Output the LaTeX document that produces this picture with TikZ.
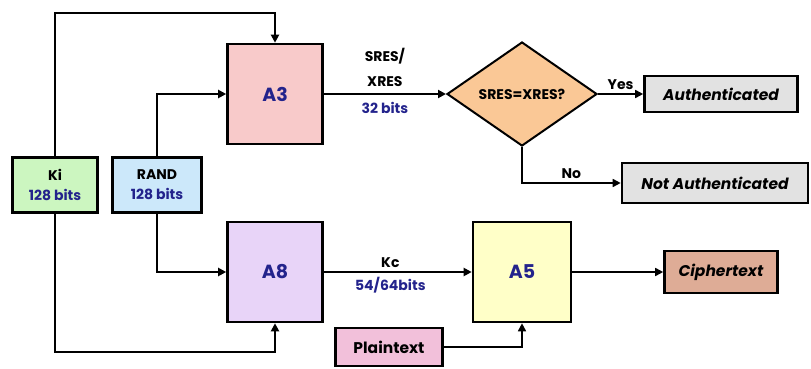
\documentclass[tikz,border=0pt]{standalone}
\usepackage{fontspec}
\setmainfont{Poppins}
\usetikzlibrary{arrows.meta,positioning,shapes.geometric}
\definecolor{nv}{RGB}{35,35,140}
\definecolor{pk}{RGB}{248,202,202}
\definecolor{lv}{RGB}{232,212,248}
\definecolor{ly}{RGB}{255,255,200}
\definecolor{kg}{RGB}{204,246,192}
\definecolor{rb}{RGB}{204,232,250}
\definecolor{og}{RGB}{250,200,150}
\definecolor{gy}{RGB}{226,226,226}
\definecolor{bn}{RGB}{222,172,150}
\definecolor{pl}{RGB}{242,192,218}
\newcommand{\NV}[1]{\textcolor{nv}{#1}}

\begin{document}
\begin{tikzpicture}[x=1pt,y=-1pt,
  algo/.style={draw,line width=2.6pt,minimum width=95pt,minimum height=100pt,font=\fontsize{19}{21}\selectfont\bfseries,text=nv},
  keybox/.style={draw,line width=2.6pt,minimum height=55pt,align=center,font=\fontsize{14}{20}\selectfont\bfseries},
  outbox/.style={draw,line width=2.6pt,font=\fontsize{15.5}{17}\selectfont\bfseries\itshape},
  bus/.style={line width=2.8pt,-{Triangle[length=8pt,width=8pt]}},
  wire/.style={line width=1.6pt,-{Triangle[length=8pt,width=8pt]}},
  tag/.style={font=\fontsize{14}{16}\selectfont\bfseries}]
  \useasboundingbox (0,0) rectangle (811,369);

  % inputs
  \node[keybox,fill=kg,minimum width=85pt] (ki) at (55,185) {Ki\\\NV{128 bits}};
  \node[keybox,fill=rb,minimum width=89pt] (rand) at (157,185) {RAND\\\NV{128 bits}};

  % algorithms
  \node[algo,fill=pk] (a3) at (275,94) {A3};
  \node[algo,fill=lv] (a8) at (275,272) {A8};
  \node[algo,fill=ly,minimum width=98pt] (a5) at (522,272) {A5};
  \node[draw,diamond,fill=og,line width=2pt,minimum width=150pt,minimum height=104pt,
    label={[tag]center:SRES=XRES?}] (chk) at (522,94) {};

  % outputs
  \node[outbox,fill=gy,minimum width=153pt,minimum height=36pt] (auth) at (721,94) {Authenticated};
  \node[outbox,fill=gy,minimum width=186pt,minimum height=40pt] (nauth) at (715,183) {Not Authenticated};
  \node[outbox,fill=bn,minimum width=113pt,minimum height=42pt] (ciph) at (721,272) {Ciphertext};
  \node[outbox,fill=pl,minimum width=107pt,minimum height=38pt,font=\fontsize{15.5}{17}\selectfont\bfseries] (plain) at (389,347) {Plaintext};

  % Ki and RAND feeds
  \coordinate (kitop) at (55,13);
  \coordinate (kibot) at (55,352);
  \draw[bus] (ki.north) -- (kitop) -| (a3.north);
  \draw[bus] (ki.south) -- (kibot) -| (a8.south);
  \draw[bus] (rand.north) |- (a3.west);
  \draw[bus] (rand.south) |- (a8.west);

  % results
  \draw[bus] (a3.east) -- (chk.west)
    node[tag,pos=0.5,above=3pt,align=center,text depth=0pt] {SRES/\\[9pt]XRES}
    node[tag,pos=0.5,below=4pt,text=nv] {32 bits};
  \draw[wire] (chk.east) -- (auth.west) node[tag,midway,above] {Yes};
  \draw[wire] (chk.south) |- (nauth.west) node[tag,pos=0.75,above] {No};
  \draw[bus] (a8.east) -- (a5.west)
    node[tag,pos=0.45,above] {Kc}
    node[tag,pos=0.45,below,text=nv] {54/64bits};
  \draw[wire] (a5.east) -- (ciph.west);
  \draw[wire] (plain.east) -| (a5.south);
\end{tikzpicture}
\end{document}
